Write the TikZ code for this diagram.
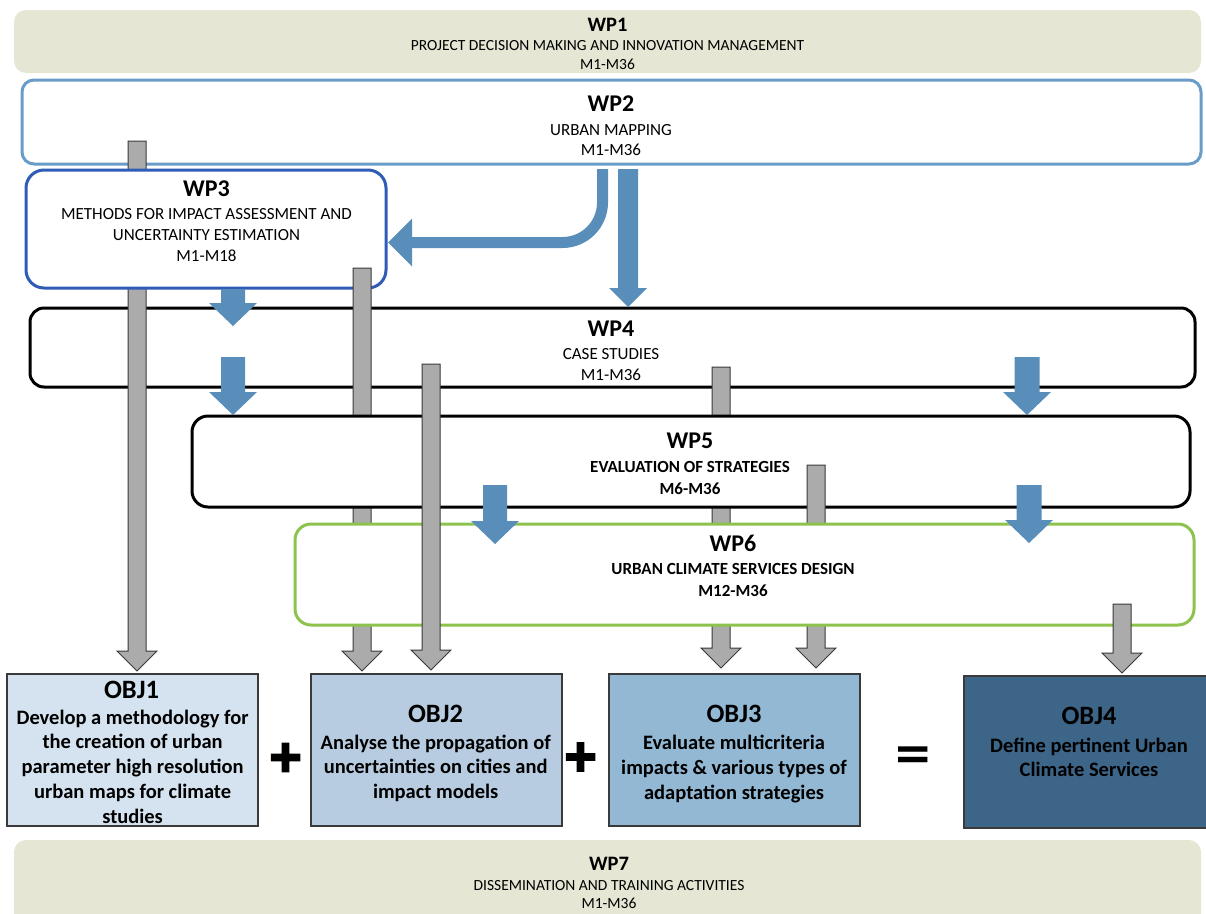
\documentclass[tikz,border=0pt]{standalone}
\usepackage{fontspec}
\setmainfont{Carlito}
\newfontfamily\opfont{DejaVu Sans}
\newfontfamily\plusfont[BoldFeatures={FakeBold=6}]{DejaVu Sans}
\usetikzlibrary{calc}
\definecolor{beige}{HTML}{E5E6D3}
\definecolor{wptwoc}{HTML}{6A9CC8}
\definecolor{wpthreec}{HTML}{2F5CB6}
\definecolor{wpsixc}{HTML}{8DC24C}
\definecolor{bluec}{HTML}{588EB9}
\definecolor{grayc}{HTML}{ABABAB}
\definecolor{glinec}{HTML}{3A3A3A}
\definecolor{objonec}{HTML}{D5E3F0}
\definecolor{objtwoc}{HTML}{B7CCE0}
\definecolor{objthreec}{HTML}{92B8D4}
\definecolor{objfourc}{HTML}{3D6588}
% block arrow: style, start, tip, shaft half width, head half width, head length
\newcommand\blockarrow[6]{%
  \path[#1] let \p1=(#2), \p2=(#3) in
    (\x1-#4pt,\y1) -- (\x1+#4pt,\y1) -- (\x1+#4pt,\y2+#6pt) -- (\x1+#5pt,\y2+#6pt)
    -- (\x1,\y2) -- (\x1-#5pt,\y2+#6pt) -- (\x1-#4pt,\y2+#6pt) -- cycle;}
\begin{document}
\begin{tikzpicture}[x=1pt,y=-1pt,
  wpbox/.style={rectangle, inner sep=0pt, outer sep=0pt, fill=white, line width=3pt},
  objbox/.style={rectangle, inner sep=0pt, outer sep=0pt, draw=glinec, line width=1.2pt},
  grayarr/.style={fill=grayc, draw=glinec, line width=1pt, line join=miter},
  bluearr/.style={fill=bluec},
  ttl/.style={anchor=base, inner sep=0pt, font=\fontsize{24}{28}\selectfont\bfseries},
  ttlsmall/.style={anchor=base, inner sep=0pt, font=\fontsize{20.5}{24}\selectfont\bfseries},
  subsmall/.style={anchor=base, inner sep=0pt, font=\fontsize{15.5}{18}\selectfont},
  sub/.style={anchor=base, inner sep=0pt, font=\fontsize{17}{20}\selectfont},
  subbold/.style={anchor=base, inner sep=0pt, font=\fontsize{17}{20}\selectfont\bfseries},
  objttl/.style={anchor=base, inner sep=0pt, font=\fontsize{26.5}{30}\selectfont\bfseries},
  objtxt/.style={anchor=base, inner sep=0pt, font=\fontsize{20.5}{24}\selectfont\bfseries},
  plussign/.style={anchor=center, inner sep=0pt, font=\fontsize{43}{46}\selectfont\plusfont\bfseries},
  eqsign/.style={anchor=center, inner sep=0pt, font=\fontsize{47}{50}\selectfont\opfont\bfseries}]
\useasboundingbox (0,0) rectangle (1206,913);
\clip (0,0) rectangle (1206,913);

% coordinates for arrows
\coordinate (g1s) at (137,141);  \coordinate (g1e) at (137,671);
\coordinate (g2s) at (362,268);  \coordinate (g2e) at (362,671);
\coordinate (g3s) at (431,364);  \coordinate (g3e) at (431,670);
\coordinate (g4s) at (721,367);  \coordinate (g4e) at (721,668);
\coordinate (g5s) at (816,465);  \coordinate (g5e) at (816,668);
\coordinate (g6s) at (1122,604); \coordinate (g6e) at (1122,673);
\coordinate (b1s) at (233,289);  \coordinate (b1e) at (233,326);
\coordinate (b2s) at (233,357);  \coordinate (b2e) at (233,415);
\coordinate (b3s) at (628,169);  \coordinate (b3e) at (628,307);
\coordinate (b4s) at (1027,357); \coordinate (b4e) at (1027,415);
\coordinate (b5s) at (1029,485); \coordinate (b5e) at (1029,543);
\coordinate (b6s) at (495,485);  \coordinate (b6e) at (495,544);
\coordinate (c1s) at (602.5,169); \coordinate (c1b) at (412,242.5); \coordinate (c1e) at (388,242.5);

% work package boxes (layered with the grey arrows)
\node[rectangle, inner sep=0pt, fill=beige, rounded corners=12pt, minimum width=1187pt, minimum height=63pt] (wp1) at (607.5,41.5) {};
\node[wpbox, draw=wptwoc, rounded corners=12pt, minimum width=1179pt, minimum height=84pt] (wp2) at (611.5,122) {};
\node[wpbox, draw=black, rounded corners=14pt, minimum width=1165pt, minimum height=79pt] (wp4) at (612.5,347.5) {};
\blockarrow{grayarr}{g1s}{g1e}{9}{20}{20}
\node[wpbox, draw=wpthreec, rounded corners=18pt, minimum width=360pt, minimum height=118pt] (wp3) at (206,229) {};
\blockarrow{grayarr}{g2s}{g2e}{9}{20}{20}
\blockarrow{grayarr}{g4s}{g4e}{9}{20}{20}
\node[wpbox, draw=black, rounded corners=16pt, minimum width=998pt, minimum height=91pt] (wp5) at (691,461.5) {};
\blockarrow{grayarr}{g5s}{g5e}{9}{20}{20}
\node[wpbox, draw=wpsixc, rounded corners=16pt, minimum width=899pt, minimum height=101pt] (wp6) at (744.5,574.5) {};
\blockarrow{grayarr}{g3s}{g3e}{9}{20}{20}
\blockarrow{grayarr}{g6s}{g6e}{9}{20}{20}

% objective boxes
\node[objbox, fill=objonec, minimum width=251pt, minimum height=152pt] (obj1) at (132.5,750) {};
\node[objbox, fill=objtwoc, minimum width=251pt, minimum height=152pt] (obj2) at (436.5,750) {};
\node[objbox, fill=objthreec, minimum width=251pt, minimum height=152pt] (obj3) at (734.5,750) {};
\node[objbox, fill=objfourc, minimum width=251pt, minimum height=152pt] (obj4) at (1089.5,752) {};

\node[rectangle, inner sep=0pt, fill=beige, rounded corners=12pt, minimum width=1187pt, minimum height=100pt] (wp7) at (607.5,890) {};

% blue arrows
\blockarrow{bluearr}{b1s}{b1e}{12}{24}{23}
\blockarrow{bluearr}{b2s}{b2e}{12}{24}{23}
\blockarrow{bluearr}{b3s}{b3e}{10}{19}{19}
\blockarrow{bluearr}{b4s}{b4e}{12.5}{24}{23}
\blockarrow{bluearr}{b5s}{b5e}{12.5}{24}{23}
\blockarrow{bluearr}{b6s}{b6e}{12}{24}{23}
\draw[bluec, line width=11pt, rounded corners=40pt] (c1s) |- (c1b);
\fill[bluec] ($(c1b)+(0,-24)$) -- (c1e) -- ($(c1b)+(0,24)$) -- cycle;

% texts
\node[ttlsmall] (wp1t) at (607.5,31) {WP1};
\node[subsmall] (wp1s) at (607.5,50.5) {PROJECT DECISION MAKING AND INNOVATION MANAGEMENT};
\node[subsmall] (wp1d) at (607.5,69) {M1-M36};

\node[ttl] (wp2t) at (611,111.7) {WP2};
\node[sub] (wp2s) at (611,135) {URBAN MAPPING};
\node[sub] (wp2d) at (611,155) {M1-M36};

\node[ttl] (wp3t) at (206.5,196.7) {WP3};
\node[sub] (wp3s) at (206.5,219) {METHODS FOR IMPACT ASSESSMENT AND};
\node[sub] (wp3u) at (206.5,240) {UNCERTAINTY ESTIMATION};
\node[sub] (wp3d) at (206.5,261) {M1-M18};

\node[ttl] (wp4t) at (611,336.7) {WP4};
\node[sub] (wp4s) at (611,359) {CASE STUDIES};
\node[sub] (wp4d) at (611,380) {M1-M36};

\node[ttl] (wp5t) at (690,448) {WP5};
\node[subbold] (wp5s) at (690,472.3) {EVALUATION OF STRATEGIES};
\node[subbold] (wp5d) at (690,494) {M6-M36};

\node[ttl] (wp6t) at (733,551.7) {WP6};
\node[subbold] (wp6s) at (733,574) {URBAN CLIMATE SERVICES DESIGN};
\node[subbold] (wp6d) at (733,596) {M12-M36};

\node[ttlsmall] (wp7t) at (609,870) {WP7};
\node[subsmall] (wp7s) at (609,890.7) {DISSEMINATION AND TRAINING ACTIVITIES};
\node[subsmall] (wp7d) at (609,908) {M1-M36};

\node[objttl] (o1t) at (131.5,698.3) {OBJ1};
\node[objtxt] (o1a) at (132.6,724) {Develop a methodology for};
\node[objtxt] (o1b) at (132.6,748.8) {the creation of urban};
\node[objtxt] (o1c) at (132.6,773.6) {parameter high resolution};
\node[objtxt] (o1d) at (132.6,798.4) {urban maps for climate};
\node[objtxt] (o1e) at (132.6,823.2) {studies};

\node[objttl] (o2t) at (435.5,722.8) {OBJ2};
\node[objtxt] (o2a) at (435.7,749.4) {Analyse the propagation of};
\node[objtxt] (o2b) at (435.7,773.8) {uncertainties on cities and};
\node[objtxt] (o2c) at (435.7,798.8) {impact models};

\node[objttl] (o3t) at (734,722.8) {OBJ3};
\node[objtxt] (o3a) at (734,749) {Evaluate multicriteria};
\node[objtxt] (o3b) at (734,774) {impacts \& various types of};
\node[objtxt] (o3c) at (734,799) {adaptation strategies};

\node[objttl] (o4t) at (1089,724.8) {OBJ4};
\node[objtxt] (o4a) at (1089,752) {Define pertinent Urban};
\node[objtxt] (o4b) at (1089,776) {Climate Services};

\node[plussign] (plusa) at (285.5,757.5) {+};
\node[plussign] (plusb) at (580.5,757) {+};
\node[eqsign] (equal) at (913.5,758.5) {=};
\end{tikzpicture}
\end{document}
